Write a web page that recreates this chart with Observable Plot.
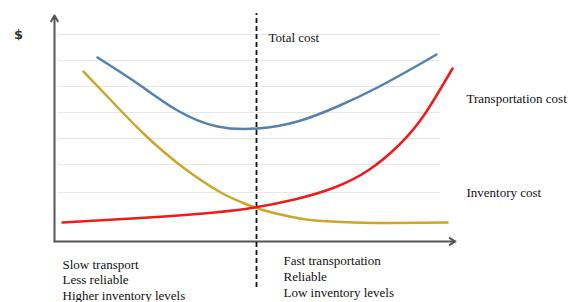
<!DOCTYPE html>
<html>
<head>
<meta charset="utf-8">
<script src="https://cdn.jsdelivr.net/npm/d3@7"></script>
<script src="https://cdn.jsdelivr.net/npm/@observablehq/plot@0.6"></script>
<style>
  html, body { margin: 0; padding: 0; background: #fff; }
  #chart svg { display: block; }
</style>
</head>
<body>
<div id="chart"></div>
<script>
// Conceptual cost curves (x: transport speed, y: cost in arbitrary units)
const totalX = [43, 83, 123, 163, 203, 243, 283, 323, 363, 382];
const totalY = [184, 158, 131, 115, 113, 120, 135, 154, 176, 187];

const transportX = [8, 60, 110, 160, 200, 240, 280, 315, 345, 370, 398];
const transportY = [19, 22, 25, 29, 34, 42, 54, 72, 97, 127, 173];

const inventoryX = [29, 50, 70, 90, 110, 130, 150, 170, 190, 210, 235, 260, 300, 340, 393];
const inventoryY = [170, 148, 127, 107, 89, 73, 59, 47, 38, 31, 25, 21, 19, 18.5, 19];

const gridLevels = [49, 77, 103, 129, 155, 181, 207];
const optimumX = 202;

const seriesLabels = [
  {text: "Total cost", x: 214, y: 204},
  {text: "Transportation cost", x: 412, y: 143},
  {text: "Inventory cost", x: 412, y: 49}
];
const leftNotes = ["Slow transport", "Less reliable", "Higher inventory levels"];
const rightNotes = ["Fast transportation", "Reliable", "Low inventory levels"];

const toPts = (xs, ys) => xs.map((x, i) => ({x, y: ys[i]}));
const total = toPts(totalX, totalY);
const transport = toPts(transportX, transportY);
const inventory = toPts(inventoryX, inventoryY);

const leftRows = leftNotes.map((t, i) => ({text: t, x: 8, y: -23 - i * 15.7}));
const rightRows = rightNotes.map((t, i) => ({text: t, x: 229, y: -19 - i * 16}));

const serif = "'Liberation Serif', 'Times New Roman', serif";

const chart = Plot.plot({
  width: 573,
  height: 302,
  marginLeft: 54,
  marginRight: 119,
  marginTop: 16,
  marginBottom: 61,
  x: {domain: [0, 400], axis: null},
  y: {domain: [0, 225], axis: null},
  marks: [
    Plot.ruleY(gridLevels, {x1: 4, x2: 386, stroke: "#e8e8e8", strokeWidth: 1}),
    Plot.arrow([{x1: 0, y1: 0, x2: 0, y2: 226}], {x1: "x1", y1: "y1", x2: "x2", y2: "y2", stroke: "#555", strokeWidth: 2, headLength: 5}),
    Plot.arrow([{x1: 0, y1: 0, x2: 401, y2: 0}], {x1: "x1", y1: "y1", x2: "x2", y2: "y2", stroke: "#555", strokeWidth: 2, headLength: 5}),
    Plot.ruleX([optimumX], {y1: -46, y2: 228, stroke: "#111", strokeWidth: 1.8, strokeDasharray: "5,3"}),
    Plot.line(total, {x: "x", y: "y", stroke: "#5581ab", strokeWidth: 2.5, curve: "natural"}),
    Plot.line(inventory, {x: "x", y: "y", stroke: "#cda52a", strokeWidth: 2.5, curve: "natural"}),
    Plot.line(transport, {x: "x", y: "y", stroke: "#ec1c1c", strokeWidth: 2.5, curve: "natural"}),
    Plot.text(seriesLabels, {x: "x", y: "y", text: "text", textAnchor: "start", fontFamily: serif, fontSize: 13, fill: "#111"}),
    Plot.text(leftRows, {x: "x", y: "y", text: "text", textAnchor: "start", fontFamily: serif, fontSize: 13, fill: "#111"}),
    Plot.text(rightRows, {x: "x", y: "y", text: "text", textAnchor: "start", fontFamily: serif, fontSize: 13, fill: "#111"}),
    Plot.text(["$"], {x: -36, y: 207, text: d => d, fontFamily: "'DejaVu Sans', sans-serif", fontWeight: "bold", fontSize: 13, fill: "#333"})
  ]
});
document.getElementById("chart").appendChild(chart);
</script>
</body>
</html>
